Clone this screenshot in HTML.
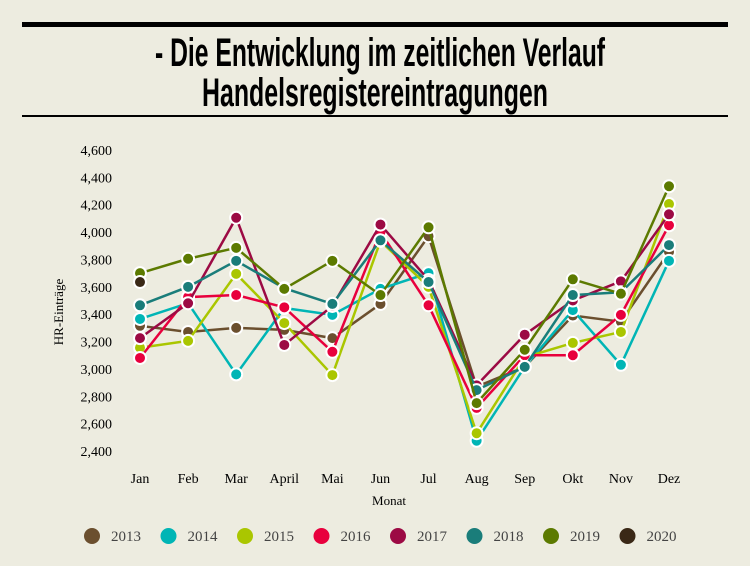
<!DOCTYPE html>
<html><head><meta charset="utf-8">
<style>
html,body{margin:0;padding:0;background:#edece0;}
svg{display:block;}
text{font-family:"Liberation Serif",serif;}
</style></head>
<body>
<svg id="chart" width="750" height="566" viewBox="0 0 750 566" xmlns="http://www.w3.org/2000/svg">
<rect width="750" height="566" fill="#edece0"/>
<rect x="22" y="22" width="706" height="5" fill="#000"/>
<rect x="22" y="115" width="706" height="2" fill="#000"/>
<text x="380" y="66" text-anchor="middle" textLength="450" lengthAdjust="spacingAndGlyphs" style="font-family:'Liberation Sans Narrow','Liberation Sans',sans-serif;font-weight:bold;font-size:40px">- Die Entwicklung im zeitlichen Verlauf</text>
<text x="375" y="106" text-anchor="middle" textLength="346" lengthAdjust="spacingAndGlyphs" style="font-family:'Liberation Sans Narrow','Liberation Sans',sans-serif;font-weight:bold;font-size:40px">Handelsregistereintragungen</text>
<g id="yaxis"></g>
<g id="xaxis"></g>
<g id="series"></g>
<text x="0" y="0" transform="translate(63,312) rotate(-90)" text-anchor="middle" font-size="13" fill="#000">HR-Einträge</text>
<text x="389" y="505" text-anchor="middle" font-size="13" fill="#000">Monat</text>
<g id="legend"></g>
</svg>
<script>
const months = ["Jan","Feb","Mar","April","Mai","Jun","Jul","Aug","Sep","Okt","Nov","Dez"];
const yTicks = [2400,2600,2800,3000,3200,3400,3600,3800,4000,4200,4400,4600];
const seriesNames = ["2013","2014","2015","2016","2017","2018","2019","2020"];
const seriesColors = ["#6b4f2e","#00b5b5","#aac600","#e8003d","#9c0a44","#1a7d7a","#5c7a00","#3a2816"];
const v2013 = [3315,3270,3300,3285,3225,3475,3970,2870,3015,3390,3345,3855];
const v2014 = [3365,3480,2960,3445,3395,3585,3700,2475,3015,3430,3030,3790];
const v2015 = [3155,3205,3695,3335,2955,3935,3600,2530,3085,3190,3270,4205];
const v2016 = [3080,3525,3540,3450,3125,4000,3465,2715,3100,3100,3395,4050];
const v2017 = [3225,3480,4105,3175,3460,4055,3650,2880,3250,3500,3640,4130];
const v2018 = [3465,3600,3790,3590,3475,3940,3635,2845,3015,3540,3560,3905];
const v2019 = [3700,3805,3885,3585,3790,3540,4035,2750,3140,3655,3550,4335];
const v2020 = [3635];
const allValues = [v2013,v2014,v2015,v2016,v2017,v2018,v2019,v2020];

const NS="http://www.w3.org/2000/svg";
const x0=140, x1=669, yMin=2400, yMax=4600, yb=451, yt=150;
function xScale(i){return x0+(x1-x0)*i/(months.length-1);}
function yScale(v){return yb-(v-yMin)/(yMax-yMin)*(yb-yt);}
function mk(tag,attrs,parent){const e=document.createElementNS(NS,tag);for(const k in attrs)e.setAttribute(k,attrs[k]);parent.appendChild(e);return e;}

const ya=document.getElementById('yaxis');
yTicks.forEach(t=>{
  const tx=mk('text',{x:112,y:yScale(t)+5,'text-anchor':'end','font-size':'14',fill:'#000'},ya);
  tx.textContent=t.toLocaleString('en-US');
  
  
});
const xa=document.getElementById('xaxis');
months.forEach((m,i)=>{
  const tx=mk('text',{x:xScale(i),y:483,'text-anchor':'middle','font-size':'14',fill:'#000'},xa);
  tx.textContent=m;
  
  
});
const sg=document.getElementById('series');
allValues.forEach((vals,s)=>{
  const g=mk('g',{},sg);
  
  
  const pts=vals.map((v,i)=>xScale(i)+','+yScale(v)).join(' ');
  const pl=mk('polyline',{points:pts,fill:'none',stroke:seriesColors[s],'stroke-width':'2.5'},g);
  
  
  vals.forEach((v,i)=>{
    const c=mk('circle',{cx:xScale(i),cy:yScale(v),r:6,fill:seriesColors[s],stroke:'#fff','stroke-width':'2'},g);
    
    
  });
});
const lg=document.getElementById('legend');
seriesNames.forEach((n,s)=>{
  const lx=92+s*76.5;
  const item=mk('g',{},lg);
  
  
  mk('circle',{cx:lx,cy:536,r:8,fill:seriesColors[s]},item);
  const t=mk('text',{x:lx+19,y:541,'font-size':'15',fill:'#444'},item);
  t.textContent=n;
});
</script>
</body></html>
